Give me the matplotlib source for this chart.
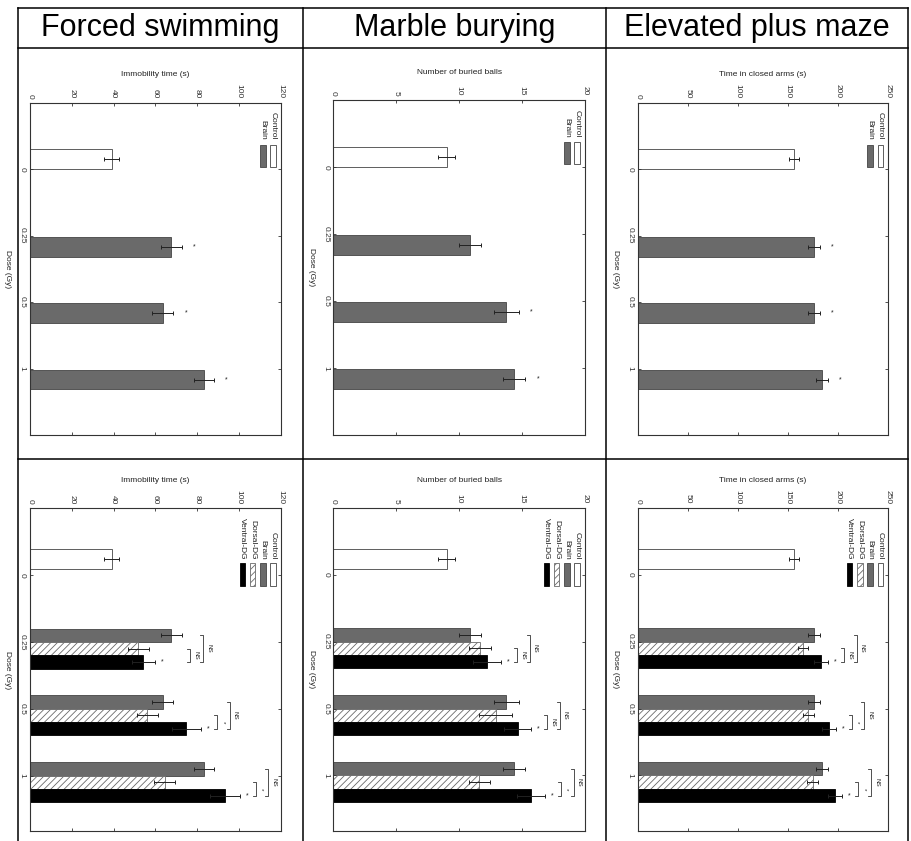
import matplotlib
matplotlib.use("Agg")
import matplotlib.pyplot as plt
from matplotlib.patches import Rectangle
from matplotlib.lines import Line2D
from matplotlib.transforms import Affine2D

plt.rcParams['font.family'] = ['Liberation Sans', 'DejaVu Sans']
plt.rcParams['hatch.linewidth'] = 0.6

W, H = 912, 841

titles = ['Forced swimming', 'Marble burying', 'Elevated plus maze']
value_labels = ['Immobility time (s)', 'Number of buried balls', 'Time in closed arms (s)']
dose_labels = ['0', '0.25', '0.5', '1']
x_max = [120, 20, 250]
x_step = [20, 5, 50]

# dose 0 (control)
control_mean = [39.0, 9.0, 156.0]
control_err = [3.5, 0.7, 5.0]

# doses 0.25, 0.5, 1
brain_mean = [[67.5, 63.5, 83.3], [10.85, 13.75, 14.35], [175.5, 175.5, 184.0]]
brain_err = [[5.0, 5.0, 4.7], [0.9, 1.0, 0.9], [6.0, 6.0, 6.0]]
dorsal_mean = [[51.8, 56.0, 64.4], [11.65, 12.9, 11.6], [165.0, 170.0, 174.5]]
dorsal_err = [[5.0, 5.0, 5.0], [0.87, 1.3, 0.82], [5.3, 5.5, 5.5]]
ventral_mean = [[54.2, 74.8, 93.2], [12.2, 14.65, 15.7], [183.0, 190.5, 197.0]]
ventral_err = [[5.5, 7.0, 7.0], [1.1, 1.05, 1.1], [7.0, 7.0, 7.0]]

# significance marks
top_star = [[True, True, True], [False, True, True], [True, True, True]]
dorsal_vs_ventral = [['NS', '*', '*'], ['NS', 'NS', '*'], ['NS', '*', '*']]
brain_vs_ventral = [['NS', 'NS', 'NS'], ['NS', 'NS', 'NS'], ['NS', 'NS', 'NS']]

styles = {
    'Control': dict(facecolor='white', edgecolor='#444444'),
    'Brain': dict(facecolor='#6a6a6a', edgecolor='#444444'),
    'Dorsal-DG': dict(facecolor='white', edgecolor='#6a6a6a', hatch='/////'),
    'Ventral-DG': dict(facecolor='black', edgecolor='black'),
}

# axes boxes in pixels (x0, y0, x1, y1), y measured from the top
top_boxes = [(30, 102.7, 281, 435), (333.3, 100, 585, 435), (637.7, 102.7, 888.3, 435)]
bottom_boxes = [(30, 508.3, 281, 831), (333.3, 508, 585, 831), (637.7, 508, 888.3, 831)]

fig = plt.figure(figsize=(W / 100, H / 100), dpi=100)
PX = Affine2D().scale(1.0 / W, -1.0 / H).translate(0, 1) + fig.transFigure


def make_axes(box):
    x0, y0, x1, y1 = box
    return fig.add_axes([x0 / W, 1 - y1 / H, (x1 - x0) / W, (y1 - y0) / H])


def setup(ax, col, ylim):
    ax.set_xlim(0, x_max[col])
    ax.set_ylim(ylim)
    ticks = list(range(0, x_max[col] + 1, x_step[col]))
    ax.set_xticks(ticks)
    ax.set_xticklabels([str(t) for t in ticks], rotation=-90, va='bottom', ha='center')
    ax.set_yticks(range(len(dose_labels)))
    ax.set_yticklabels(dose_labels, rotation=-90, va='center', ha='right')
    ax.tick_params(axis='both', direction='in', length=2.5, width=0.6, labelsize=6,
                   top=True, bottom=True, left=True, right=True,
                   labeltop=True, labelbottom=False, colors='#333333', pad=3)
    for s in ax.spines.values():
        s.set_linewidth(0.8)
        s.set_color('#333333')
    ax.annotate(value_labels[col], xy=(0.5, 1), xycoords='axes fraction',
                xytext=(0, 28 * 0.72), textcoords='offset points',
                ha='center', va='center', fontsize=6, color='#222222')
    ax.annotate('Dose (Gy)', xy=(0, 0.5), xycoords='axes fraction',
                xytext=(-22 * 0.72, 0), textcoords='offset points',
                ha='center', va='center', fontsize=6, rotation=-90, color='#222222')


def legend(box, names, text_end, sw_top, sw_bot):
    x1, y0 = box[2], box[1]
    for i, name in enumerate(names):
        cx = x1 - 7.7 - 10.3 * i
        fig.text(cx, y0 + text_end, name, transform=PX, rotation=-90,
                 ha='center', va='bottom', fontsize=6, color='#222222')
        fig.patches.append(Rectangle((cx - 2.8, y0 + sw_top), 5.6, sw_bot - sw_top,
                                     transform=PX, linewidth=0.6, **styles[name]))


def err(ax, x, y, e):
    ax.errorbar(x, y, xerr=e, fmt='none', ecolor='#222222', elinewidth=0.7,
                capsize=1.5, capthick=0.7)


def bracket(ax, col, bx, ya, yb, label):
    t = 0.012 * x_max[col]
    ax.plot([bx - t, bx, bx, bx - t], [ya, ya, yb, yb], color='#333333', lw=0.6)
    ax.text(bx + 0.022 * x_max[col], (ya + yb) / 2, label, rotation=-90,
            ha='center', va='center', fontsize=4.5, color='#222222')


dose_pos = [1, 2, 3]

for col in range(3):
    xm = x_max[col]
    # ---- top row: Control vs Brain
    ax = make_axes(top_boxes[col])
    ax.barh(-0.15, control_mean[col], height=0.3, linewidth=0.6, **styles['Control'])
    err(ax, control_mean[col], -0.15, control_err[col])
    yb = [p + 0.165 for p in dose_pos]
    ax.barh(yb, brain_mean[col], height=0.3, linewidth=0.6, **styles['Brain'])
    err(ax, brain_mean[col], yb, brain_err[col])
    for i in range(3):
        if top_star[col][i]:
            ax.text(brain_mean[col][i] + brain_err[col][i] + 0.05 * xm, yb[i], '*',
                    ha='center', va='center', fontsize=5, color='#222222')
    setup(ax, col, (4, -1))
    legend(top_boxes[col], ['Control', 'Brain'], 37.3, 42, 64)

    # ---- bottom row: Control, Brain, Dorsal-DG, Ventral-DG
    ax = make_axes(bottom_boxes[col])
    ax.barh(-0.24, control_mean[col], height=0.3, linewidth=0.6, **styles['Control'])
    err(ax, control_mean[col], -0.24, control_err[col])
    y_b = [p - 0.1 for p in dose_pos]
    y_d = [p + 0.1 for p in dose_pos]
    y_v = [p + 0.3 for p in dose_pos]
    ax.barh(y_b, brain_mean[col], height=0.2, linewidth=0.6, **styles['Brain'])
    ax.barh(y_d, dorsal_mean[col], height=0.2, linewidth=0.6, **styles['Dorsal-DG'])
    ax.barh(y_v, ventral_mean[col], height=0.2, linewidth=0.6, **styles['Ventral-DG'])
    err(ax, brain_mean[col], y_b, brain_err[col])
    err(ax, dorsal_mean[col], y_d, dorsal_err[col])
    err(ax, ventral_mean[col], y_v, ventral_err[col])
    for i in range(3):
        tops = [brain_mean[col][i] + brain_err[col][i],
                dorsal_mean[col][i] + dorsal_err[col][i],
                ventral_mean[col][i] + ventral_err[col][i]]
        star_x = tops[2] + 0.03 * xm
        ax.text(star_x, y_v[i], '*', ha='center', va='center', fontsize=5, color='#222222')
        small_x = max(max(tops), star_x) + 0.035 * xm
        big_x = small_x + 0.05 * xm
        bracket(ax, col, small_x, y_d[i], y_v[i], dorsal_vs_ventral[col][i])
        bracket(ax, col, big_x, y_b[i], y_v[i], brain_vs_ventral[col][i])
    setup(ax, col, (3.83, -1))
    legend(bottom_boxes[col], ['Control', 'Brain', 'Dorsal-DG', 'Ventral-DG'], 51.7, 55, 78)

# table frame and headers
grid_x = [18, 303, 606, 908]
for y in [8, 48, 459]:
    fig.add_artist(Line2D([grid_x[0], grid_x[-1]], [y, y], transform=PX, color='black', lw=1.1))
for x in grid_x:
    fig.add_artist(Line2D([x, x], [8, H], transform=PX, color='black', lw=1.1))
for col, t in enumerate(titles):
    cx = (grid_x[col] + grid_x[col + 1]) / 2
    fig.text(cx, 28, t, transform=PX, ha='center', va='center', fontsize=22, color='black')

fig.savefig('out.png', dpi=100, facecolor='white')
